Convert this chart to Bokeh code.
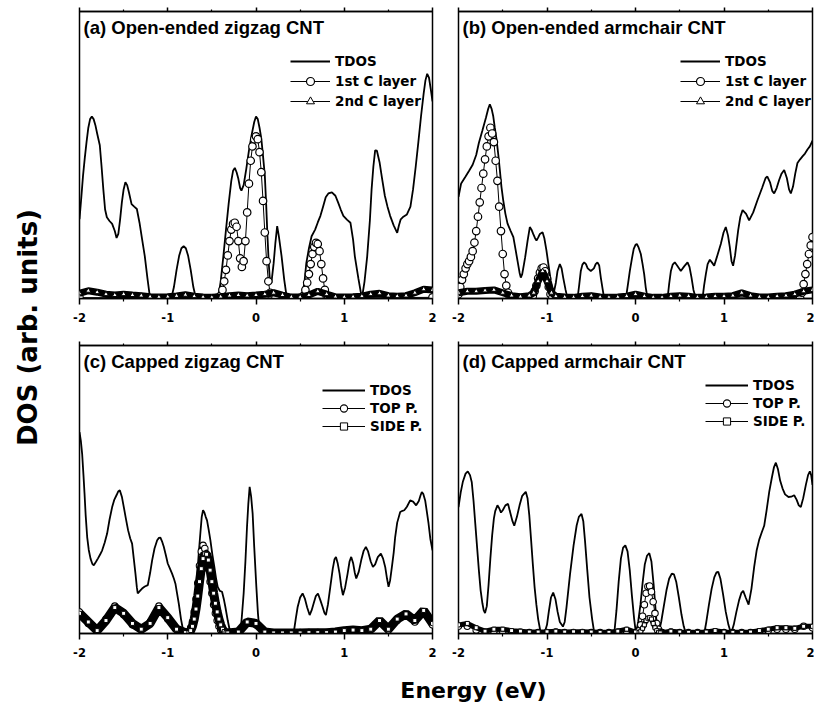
from bokeh.plotting import figure
from bokeh.models import Range1d, LinearAxis, FixedTicker, Label, Legend, LegendItem
from bokeh.layouts import row, column
from bokeh.embed import file_html
from bokeh.resources import INLINE

# ---------------- axis ticks ----------------
tick_vals = [-2, -1, 0, 1, 2]
tick_labels = ["-2", "-1", "0", "1", "2"]
minor_vals = [-1.5, -0.5, 0.5, 1.5]

titles = ["(a) Open-ended zigzag CNT", "(b) Open-ended armchair CNT",
          "(c) Capped zigzag CNT", "(d) Capped armchair CNT"]
legend_open = ["TDOS", "1st C layer", "2nd C layer"]
legend_cap = ["TDOS", "TOP P.", "SIDE P."]
x_title = "Energy (eV)"
y_title = "DOS (arb. units)"

# common coarse energy grid (eV)
e_step01 = [-2.0, -1.9, -1.8, -1.7, -1.6, -1.5, -1.4, -1.3, -1.2, -1.1, -1.0, -0.9, -0.8, -0.7, -0.6,
            -0.5, -0.4, -0.3, -0.2, -0.1, 0.0, 0.1, 0.2, 0.3, 0.4, 0.5, 0.6, 0.7, 0.8, 0.9, 1.0,
            1.1, 1.2, 1.3, 1.4, 1.5, 1.6, 1.7, 1.8, 1.9, 2.0]

# ---------------- panel (a) ----------------
a_tdos_E = [-2.00, -1.98, -1.96, -1.94, -1.92, -1.90, -1.88, -1.86, -1.84, -1.82, -1.80,
            -1.77, -1.75, -1.73, -1.71, -1.69, -1.66, -1.63, -1.60, -1.58, -1.56,
            -1.54, -1.52, -1.50, -1.48, -1.46, -1.44, -1.41, -1.38, -1.35, -1.32,
            -1.29, -1.26, -1.23, -1.20,
            -0.96, -0.93, -0.90, -0.87, -0.845, -0.82, -0.795, -0.77, -0.74, -0.71, -0.68,
            -0.43, -0.40, -0.37, -0.34, -0.31, -0.28, -0.26, -0.24, -0.22, -0.20,
            -0.18, -0.165, -0.14, -0.11, -0.08, -0.05, -0.02, 0.00, 0.02, 0.04,
            0.06, 0.08, 0.10, 0.115, 0.13, 0.145, 0.16, 0.175, 0.20, 0.22,
            0.24, 0.26, 0.29, 0.32, 0.35,
            0.52, 0.55, 0.57, 0.60, 0.63, 0.67, 0.70, 0.73, 0.76, 0.79,
            0.82, 0.86, 0.90, 0.93, 0.96, 0.99, 1.03, 1.07, 1.10, 1.12, 1.16, 1.20,
            1.23, 1.26, 1.29, 1.31, 1.33, 1.35, 1.37, 1.40, 1.43, 1.46,
            1.49, 1.52, 1.56, 1.60, 1.62, 1.64, 1.67, 1.71, 1.75, 1.78,
            1.81, 1.84, 1.87, 1.90, 1.92, 1.94, 1.96, 1.98, 2.00]
a_tdos_v = [27.6, 35.0, 42.8, 49.0, 54.6, 59.5, 62.5, 63.4, 62.5, 60.4, 57.5,
            53.4, 46.0, 38.0, 31.0, 28.3, 27.0, 26.0, 23.5, 21.1, 22.5,
            27.5, 33.5, 38.0, 40.5, 39.5, 37.0, 32.9, 32.0, 31.2, 26.4,
            20.5, 14.7, 7.0, 0.0,
            0.0, 4.0, 10.0, 15.0, 17.5, 18.2, 17.5, 15.0, 10.0, 4.0, 0.0,
            0.0, 6.0, 14.7, 24.0, 33.0, 41.0, 44.5, 45.5, 44.0, 41.7,
            38.5, 37.6, 39.5, 45.2, 51.5, 56.9, 61.5, 63.4, 62.5, 59.5,
            55.8, 49.5, 42.8, 33.0, 21.7, 12.0, 5.3, 5.5, 12.3, 19.5,
            25.2, 21.5, 14.7, 6.5, 0.0,
            0.0, 6.0, 12.3, 17.5, 21.7, 24.0, 26.5, 28.8, 32.0, 35.3,
            36.6, 37.0, 35.8, 33.5, 31.0, 28.8, 27.5, 26.4, 20.5, 14.7, 7.0, 0.0,
            6.0, 14.7, 27.0, 38.1, 46.0, 51.6, 51.5, 47.5, 41.5, 35.8,
            32.0, 28.8, 25.5, 22.9, 25.5, 27.6, 28.5, 29.3, 32.0, 38.1,
            46.0, 54.6, 63.5, 71.5, 76.0, 78.3, 77.0, 73.0, 68.7]
a_l1_E = [-2.00, -0.44,
          -0.42, -0.40, -0.38, -0.36, -0.34, -0.32, -0.30, -0.28, -0.26, -0.24,
          -0.22, -0.20, -0.18, -0.16, -0.14, -0.12, -0.10, -0.08, -0.06, -0.04,
          -0.02, 0.00, 0.02, 0.04, 0.06, 0.08, 0.10, 0.12, 0.14, 0.16,
          0.18, 0.20, 0.22,
          0.50, 0.52, 0.54, 0.56, 0.58, 0.60, 0.62, 0.64, 0.66, 0.68,
          0.70, 0.72, 0.74, 0.76, 0.78, 0.80, 0.82, 0.84,
          2.00]
a_l1_v = [0.3, 0.2,
          0.3, 1, 3, 6, 10, 15, 20, 24, 26, 26.4,
          25, 20, 14, 11, 13, 20, 30, 40, 48, 53,
          55.5, 56.5, 55.5, 51, 44, 34, 23, 13, 6, 2,
          0.5, 0.2, 0.2,
          0.2, 0.3, 1, 3, 5.5, 8.5, 12, 15.5, 18, 19.4,
          19, 16.5, 12, 7, 3, 1, 0.3, 0.2,
          0.4]
a_l2_E = e_step01
a_l2_v = [1.8, 2.7, 2.2, 1.5, 1.2, 1.5, 1.2, 1.0, 0.6, 0.5,
          0.6, 0.9, 1.3, 0.8, 0.5, 0.4, 0.6, 1.0, 1.2, 1.0,
          1.2, 1.5, 2.0, 1.2, 0.5, 0.5, 1.2, 2.5, 1.5, 0.6,
          0.5, 0.6, 0.8, 1.5, 1.8, 1.0, 0.8, 1.0, 2.0, 3.2, 3.0]

# ---------------- panel (b) ----------------
b_tdos_E = [-2.00, -1.97, -1.92, -1.88, -1.84, -1.80, -1.77, -1.73, -1.69, -1.665,
            -1.646, -1.625, -1.608, -1.59, -1.57, -1.55, -1.533, -1.515, -1.495, -1.47,
            -1.446, -1.41, -1.38, -1.355, -1.333, -1.31, -1.296, -1.28, -1.26, -1.247,
            -1.22, -1.194, -1.175, -1.156, -1.135, -1.119, -1.10, -1.08, -1.05, -1.03,
            -1.006, -0.98, -0.957, -0.935, -0.919, -0.90, -0.881, -0.855, -0.835, -0.817,
            -0.79, -0.768,
            -0.655, -0.635, -0.618, -0.60, -0.58, -0.56, -0.54, -0.505, -0.47, -0.45,
            -0.43, -0.41, -0.392, -0.37, -0.354,
            -0.109, -0.085, -0.064, -0.04, -0.02, 0.00, 0.015, 0.035, 0.06, 0.08,
            0.098, 0.115, 0.136,
            0.362, 0.38, 0.40, 0.42, 0.444, 0.47, 0.512, 0.55, 0.588, 0.61,
            0.633, 0.655, 0.682,
            0.757, 0.775, 0.795, 0.815, 0.84, 0.865, 0.889, 0.92, 0.964, 0.995,
            1.02, 1.045, 1.066, 1.085, 1.103, 1.125, 1.16, 1.185, 1.21, 1.25,
            1.284, 1.33, 1.379, 1.43, 1.47, 1.49, 1.52, 1.545, 1.567, 1.595,
            1.623, 1.65, 1.68, 1.71, 1.735, 1.755, 1.78, 1.805, 1.83, 1.86,
            1.887, 1.915, 1.943, 1.97, 2.00]
b_tdos_v = [35.4, 40.1, 42.5, 44.5, 46.6, 50.0, 54.2, 58.5, 63.0, 66.0,
            67.7, 66.0, 63.6, 59.5, 55.4, 50.0, 44.8, 39.0, 34.3, 29.5,
            26.1, 23.5, 21.4, 17.0, 13.1, 9.0, 7.3, 8.5, 12.0, 14.3,
            20.0, 24.9, 24.0, 22.5, 21.0, 20.2, 21.2, 22.5, 23.1, 21.0,
            16.7, 11.0, 6.1, 3.5, 2.6, 5.5, 9.6, 12.0, 10.5, 7.3,
            3.0, 0.0,
            0.0, 5.0, 9.6, 11.8, 12.6, 12.0, 10.5, 9.6, 10.5, 12.0,
            12.6, 11.5, 7.3, 3.0, 0.0,
            0.0, 5.0, 9.6, 14.0, 17.3, 18.7, 19.0, 17.8, 15.5, 12.0,
            8.5, 4.0, 0.0,
            0.0, 5.0, 9.6, 11.8, 12.6, 11.5, 9.6, 11.2, 12.6, 11.0,
            7.3, 3.0, 0.0,
            0.0, 4.5, 8.5, 12.0, 13.5, 12.5, 11.4, 14.5, 19.0, 23.0,
            24.9, 22.0, 17.8, 13.0, 11.4, 15.0, 23.7, 28.5, 30.8, 29.5,
            27.2, 30.0, 34.3, 38.5, 42.0, 42.5, 40.5, 37.5, 36.6, 38.5,
            41.3, 43.5, 44.8, 42.0, 38.0, 36.6, 39.0, 43.5, 47.2, 48.5,
            49.5, 50.5, 51.9, 53.0, 55.0]
b_l1_E = [-2.00, -1.98, -1.96, -1.94, -1.92, -1.90, -1.88, -1.86, -1.84, -1.82,
          -1.80, -1.78, -1.76, -1.74, -1.72, -1.70, -1.68, -1.66, -1.64, -1.62,
          -1.60, -1.58, -1.56, -1.54, -1.52, -1.50, -1.48, -1.46, -1.44, -1.42,
          -1.40,
          -1.18, -1.16, -1.14, -1.12, -1.10, -1.08, -1.06, -1.04, -1.02, -1.00,
          -0.98, -0.96, -0.94,
          1.86, 1.88, 1.90, 1.92, 1.94, 1.96, 1.98, 2.00]
b_l1_v = [1.5, 4, 6.5, 8.5, 10.5, 12, 13, 14.5, 16.5, 19.5,
          23.5, 28.5, 33.5, 38.5, 43.5, 48.5, 53, 56.5, 59.5, 57.5,
          54.5, 48, 41, 32, 23.5, 15.5, 8.5, 4.5, 2, 0.5,
          0.2,
          0.2, 1, 2.5, 4.5, 7, 9, 10.5, 10.8, 9.5, 7,
          4, 1.5, 0.2,
          0.2, 2, 5, 8.5, 12, 15.5, 18.5, 21.4]
b_l2_E = [-2.0, -1.9, -1.8, -1.7, -1.6, -1.5, -1.4, -1.3, -1.2,
          -1.15, -1.1, -1.05, -1.0, -0.95, -0.9,
          -0.8, -0.7, -0.6, -0.5, -0.4, -0.3, -0.2, -0.1, 0.0, 0.1,
          0.2, 0.3, 0.4, 0.5, 0.6, 0.7, 0.8, 0.9, 1.0, 1.1,
          1.2, 1.3, 1.4, 1.5, 1.6, 1.7, 1.8, 1.9, 2.0]
b_l2_v = [2.0, 2.5, 2.5, 2.8, 3.0, 2.0, 1.0, 0.6, 1.0,
          2.0, 6.0, 9.5, 6.0, 2.0, 0.8,
          0.5, 0.4, 0.8, 1.0, 0.5, 0.4, 0.5, 0.8, 1.5, 0.8,
          0.4, 0.4, 0.8, 1.0, 0.8, 0.4, 0.5, 0.8, 0.8, 1.0,
          2.0, 1.0, 0.5, 0.5, 0.8, 1.0, 1.5, 2.5, 3.0]

# ---------------- panel (c) ----------------
c_tdos_E = [-2.00, -1.985, -1.97, -1.955, -1.943, -1.93, -1.913, -1.895, -1.875, -1.855,
            -1.838, -1.815, -1.792, -1.765, -1.743, -1.715, -1.687, -1.66, -1.63, -1.605,
            -1.581, -1.562, -1.543, -1.52, -1.498, -1.475, -1.449, -1.425, -1.404, -1.385,
            -1.366, -1.35, -1.34, -1.315, -1.291, -1.26, -1.226, -1.20, -1.177, -1.15,
            -1.12, -1.10, -1.083, -1.065, -1.045, -1.02, -1.00, -0.975, -0.951, -0.93,
            -0.913, -0.895, -0.875, -0.85, -0.819,
            -0.725, -0.705, -0.687, -0.668, -0.649, -0.63, -0.615, -0.60, -0.585, -0.57,
            -0.555, -0.535, -0.517, -0.495, -0.472, -0.452, -0.434, -0.41, -0.385, -0.365,
            -0.347, -0.32, -0.29,
            -0.177, -0.16, -0.14, -0.12, -0.102, -0.087, -0.072, -0.055, -0.038, -0.02,
            0.004, 0.022, 0.042,
            0.426, 0.45, 0.472, 0.50, 0.528, 0.555, 0.58, 0.608, 0.63, 0.653,
            0.678, 0.702, 0.73, 0.755, 0.775, 0.792, 0.815, 0.842, 0.87, 0.89,
            0.906, 0.925, 0.947, 0.965, 0.985, 1.01, 1.038, 1.06, 1.079, 1.10,
            1.12, 1.136, 1.165, 1.192, 1.22, 1.245, 1.27, 1.30, 1.325, 1.35,
            1.38, 1.415, 1.44, 1.464, 1.485, 1.502, 1.52, 1.54, 1.56, 1.577,
            1.60, 1.634, 1.66, 1.68, 1.71, 1.747, 1.78, 1.815, 1.845, 1.865,
            1.879, 1.895, 1.917, 1.935, 1.955, 1.975, 2.00]
c_tdos_v = [69.9, 67.0, 62.4, 55.0, 48.6, 41.0, 33.5, 29.0, 26.0, 24.2,
            23.7, 24.8, 26.0, 27.5, 28.9, 31.5, 34.7, 39.5, 43.9, 46.5,
            48.0, 49.3, 49.7, 47.5, 43.9, 40.0, 35.8, 33.0, 31.2, 26.0,
            20.8, 16.0, 13.9, 14.8, 15.6, 16.3, 16.8, 21.0, 25.4, 29.5,
            32.4, 33.2, 33.3, 32.0, 30.1, 27.0, 24.3, 22.5, 20.8, 19.0,
            17.3, 14.0, 10.4, 5.0, 0.0,
            0.0, 5.0, 11.6, 19.5, 27.7, 35.0, 40.5, 42.8, 42.0, 40.5,
            39.3, 35.8, 32.4, 27.5, 23.1, 19.0, 16.2, 14.8, 14.5, 12.0,
            9.2, 4.5, 0.0,
            0.0, 6.0, 13.9, 25.0, 37.0, 45.0, 50.9, 47.5, 41.6, 30.0,
            16.2, 7.0, 0.0,
            0.0, 5.0, 9.2, 12.5, 13.9, 12.0, 9.0, 6.4, 8.0, 10.4,
            13.0, 13.9, 11.5, 9.2, 7.2, 6.4, 10.0, 16.2, 22.5, 25.8,
            26.6, 24.5, 20.8, 16.5, 13.3, 16.0, 20.8, 25.0, 26.6, 24.5,
            21.0, 19.1, 21.5, 25.4, 28.7, 30.1, 28.5, 25.0, 23.1, 24.0,
            26.5, 27.7, 26.0, 23.1, 19.0, 16.2, 18.5, 23.1, 28.0, 33.5,
            38.5, 42.2, 42.6, 42.8, 44.0, 46.2, 45.8, 44.5, 46.0, 48.0,
            49.1, 48.5, 46.2, 42.5, 38.2, 33.0, 28.9]
c_top_E = [-2.0, -1.9, -1.8, -1.7, -1.6, -1.5, -1.4, -1.3, -1.2, -1.1, -1.0, -0.9, -0.8,
           -0.78, -0.76, -0.74, -0.72, -0.70, -0.68, -0.66, -0.64, -0.62, -0.60,
           -0.58, -0.56, -0.54, -0.52, -0.50, -0.48, -0.46, -0.44, -0.42, -0.40,
           -0.38, -0.36,
           -0.3, -0.2, -0.1, 0.0, 0.1, 0.2, 0.3, 0.4, 0.5, 0.6, 0.7, 0.8, 0.9, 1.0,
           1.1, 1.2, 1.3, 1.4, 1.5, 1.6, 1.7, 1.8, 1.9, 2.0]
c_top_v = [7.5, 3.5, 0.8, 5.0, 9.5, 6.5, 3.0, 1.5, 4.0, 9.5, 5.0, 1.5, 0.2,
           0.3, 0.8, 2, 4, 7.5, 12, 17.5, 23.5, 28.5, 30.6,
           29.5, 26.5, 22.5, 18, 14, 10, 7, 4.5, 2.5, 1.2,
           0.5, 0.3,
           0.4, 0.8, 3.5, 3.0, 0.5, 0.2, 0.2, 0.2, 0.3, 0.3, 0.3, 0.3, 0.5, 0.8,
           1.0, 0.8, 1.5, 4.0, 1.2, 4.5, 6.3, 4.0, 7.5, 3.0]
c_side_E = [-2.0, -1.9, -1.8, -1.7, -1.6, -1.5, -1.4, -1.3, -1.2, -1.1, -1.0, -0.9, -0.8,
            -0.76, -0.74, -0.72, -0.70, -0.68, -0.66, -0.64, -0.62, -0.60, -0.58,
            -0.56, -0.54, -0.52, -0.50, -0.48, -0.46, -0.44, -0.42, -0.40, -0.38,
            -0.36, -0.34, -0.32,
            -0.2, -0.1, 0.0, 0.1, 0.2, 0.3, 0.4, 0.5, 0.6, 0.7, 0.8, 0.9, 1.0,
            1.1, 1.2, 1.3, 1.4, 1.5, 1.6, 1.7, 1.8, 1.9, 2.0]
c_side_v = [7.0, 4.0, 1.0, 4.5, 9.0, 7.0, 3.5, 1.5, 3.5, 9.0, 5.5, 1.5, 0.3,
            0.3, 1, 2.5, 5, 8.5, 13, 18, 22.5, 26, 27.7,
            27.5, 25.5, 22, 18, 14, 10.5, 7.5, 5, 3, 1.5,
            0.7, 0.3, 0.2,
            0.5, 4.0, 3.5, 0.5, 0.2, 0.2, 0.2, 0.2, 0.3, 0.3, 0.3, 0.5, 1.0,
            1.2, 1.0, 1.5, 4.5, 1.5, 5.0, 6.8, 4.5, 8.0, 3.5]

# ---------------- panel (d) ----------------
d_tdos_E = [-2.00, -1.975, -1.95, -1.92, -1.895, -1.87, -1.85, -1.83, -1.81, -1.79,
            -1.77, -1.75, -1.73, -1.715, -1.70, -1.68, -1.66, -1.64, -1.62, -1.60,
            -1.585, -1.56, -1.54, -1.52, -1.50, -1.47, -1.44, -1.42, -1.39, -1.37,
            -1.34, -1.31, -1.28, -1.24, -1.22, -1.20, -1.18, -1.16, -1.14, -1.12,
            -1.10, -1.07,
            -1.03, -1.00, -0.98, -0.955, -0.93, -0.905, -0.88, -0.855, -0.82, -0.80,
            -0.78, -0.74, -0.70, -0.665, -0.64, -0.61, -0.59, -0.57, -0.545, -0.52,
            -0.49, -0.465,
            -0.24, -0.215, -0.19, -0.165, -0.14, -0.115, -0.09, -0.065, -0.04, -0.015, 0.005,
            0.03, 0.056, 0.08, 0.105, 0.13, 0.156, 0.18, 0.205, 0.225, 0.24, 0.26,
            0.29, 0.32, 0.35, 0.38, 0.41, 0.435, 0.46, 0.49, 0.52, 0.545, 0.57,
            0.777, 0.80, 0.83, 0.86, 0.89, 0.915, 0.935, 0.96, 0.99, 1.02, 1.05, 1.08,
            1.11, 1.14, 1.17, 1.195, 1.217, 1.245, 1.278, 1.31, 1.341, 1.37,
            1.398, 1.425, 1.454, 1.48, 1.511, 1.54, 1.565, 1.586, 1.61, 1.635,
            1.661, 1.69, 1.729, 1.76, 1.793, 1.82, 1.845, 1.868, 1.895, 1.925,
            1.95, 1.97, 1.985, 2.00]
d_tdos_v = [43.9, 49.0, 52.8, 55.5, 56.3, 55.0, 52.5, 46.0, 38.0, 30.0,
            22.0, 15.0, 10.5, 8.0, 7.1, 9.5, 17.0, 26.0, 34.0, 40.0,
            42.5, 44.5, 43.5, 42.0, 42.8, 44.5, 45.0, 42.5, 39.0, 37.4,
            40.5, 44.5, 47.8, 49.2, 47.0, 41.0, 32.6, 24.0, 16.0, 10.0,
            5.0, 0.0,
            0.0, 3.0, 7.5, 12.5, 14.2, 12.0, 7.5, 4.0, 2.4, 4.0,
            9.0, 20.5, 30.5, 37.5, 40.5, 41.5, 39.0, 32.0, 22.0, 12.5,
            5.0, 0.0,
            0.0, 8.0, 18.0, 26.0, 29.8, 30.6, 28.5, 22.0, 13.0, 5.0, 0.0,
            4.0, 10.0, 17.5, 24.0, 27.0, 27.9, 25.0, 17.0, 9.0, 3.0, 0.0,
            4.0, 9.5, 15.0, 19.0, 20.8, 20.5, 18.0, 12.5, 6.5, 2.5, 0.0,
            0.0, 4.0, 10.0, 15.5, 19.5, 21.2, 21.4, 19.0, 13.5, 7.5, 3.0, 0.0,
            3.0, 7.5, 11.5, 14.0, 14.8, 12.5, 10.0, 15.5, 23.1, 29.0,
            32.6, 35.0, 37.4, 42.5, 49.2, 54.0, 57.8, 59.3, 57.0, 53.0,
            50.4, 48.3, 47.4, 47.5, 48.0, 46.5, 44.5, 43.9, 47.0, 51.6,
            55.0, 56.3, 55.0, 51.6]
d_top_E = [-2.0, -1.9, -1.8, -1.7, -1.6, -1.5, -1.4, -1.3, -1.2, -1.1, -1.0,
           -0.9, -0.8, -0.7, -0.6, -0.5, -0.4, -0.3, -0.2, -0.1, 0.0,
           0.02, 0.04, 0.06, 0.08, 0.10, 0.12, 0.14, 0.16, 0.18, 0.20,
           0.22, 0.24, 0.26, 0.28, 0.30,
           0.4, 0.5, 0.6, 0.7, 0.8, 0.9, 1.0, 1.1, 1.2, 1.3, 1.4, 1.5, 1.6, 1.7, 1.8, 1.9, 2.0]
d_top_v = [2.5, 2.5, 1.2, 0.4, 0.8, 0.8, 0.5, 0.4, 0.3, 0.3, 0.3,
           0.5, 0.3, 0.3, 0.3, 0.3, 0.3, 0.3, 0.5, 0.8, 0.3,
           0.3, 1, 3, 6, 10, 14, 16.3, 16.5, 14.5, 11,
           7, 3.5, 1.5, 0.5, 0.3,
           0.5, 0.3, 0.3, 0.3, 0.3, 0.5, 0.3, 0.3, 0.3, 0.3, 0.6, 1.0, 1.5, 1.5, 1.5, 2.5, 2.0]
d_side_E = [-2.0, -1.9, -1.8, -1.7, -1.6, -1.5, -1.4, -1.3, -1.2, -1.1, -1.0,
            -0.9, -0.8, -0.7, -0.6, -0.5, -0.4, -0.3, -0.2, -0.1, 0.0,
            0.04, 0.06, 0.08, 0.10, 0.12, 0.14, 0.16, 0.18, 0.20, 0.22,
            0.24, 0.26, 0.28,
            0.4, 0.5, 0.6, 0.7, 0.8, 0.9, 1.0, 1.1, 1.2, 1.3, 1.4, 1.5, 1.6, 1.7, 1.8, 1.9, 2.0]
d_side_v = [3.0, 3.5, 2.0, 0.8, 1.5, 1.5, 1.0, 0.8, 0.5, 0.5, 0.6,
            0.8, 0.5, 0.6, 0.6, 0.5, 0.4, 0.4, 0.8, 1.5, 0.5,
            0.3, 0.8, 1.8, 3, 4.5, 5.3, 5.5, 5, 3.5, 2,
            1, 0.4, 0.2,
            0.8, 0.5, 0.4, 0.4, 0.5, 1.0, 0.5, 0.4, 0.4, 0.5, 1.0, 1.5, 2.0, 2.0, 1.8, 2.5, 2.5]

# ---------------- styling helpers ----------------
TICK_FONT = "DejaVu Sans"
LEG_FONT = "DejaVu Sans"
TITLE_FONT = "Liberation Sans"


def make_axis(top):
    ticker = FixedTicker(ticks=tick_vals, minor_ticks=minor_vals)
    common = dict(ticker=ticker, axis_line_width=1.5, axis_line_color="black",
                  major_tick_line_width=1.5, minor_tick_line_width=1.2,
                  major_tick_in=0, minor_tick_in=0)
    if top:
        return LinearAxis(major_tick_out=4, minor_tick_out=2,
                          major_label_overrides={t: "" for t in tick_vals},
                          major_label_text_font_size="1px", major_label_standoff=0,
                          **common)
    return LinearAxis(major_tick_out=6, minor_tick_out=3,
                      major_label_overrides=dict(zip(tick_vals, tick_labels)),
                      major_label_text_font=TICK_FONT, major_label_text_font_style="bold",
                      major_label_text_font_size="11.5px", major_label_text_color="black",
                      major_label_standoff=8, **common)


def make_panel(width, height, bl, br, bt, bb):
    p = figure(width=width, height=height, x_range=Range1d(-2, 2), y_range=Range1d(0, 100),
               x_axis_location=None, y_axis_location=None, toolbar_location=None,
               output_backend="svg", min_border_left=bl, min_border_right=br,
               min_border_top=bt, min_border_bottom=bb)
    p.grid.visible = False
    p.outline_line_color = "black"
    p.outline_line_width = 1.5
    p.add_layout(make_axis(False), "below")
    p.add_layout(make_axis(True), "above")
    return p


def add_title(p, text, frame_h):
    p.add_layout(Label(x=4, y=frame_h - 16, x_units="screen", y_units="screen", text=text,
                       text_font=TITLE_FONT, text_font_style="bold", text_font_size="18.5px",
                       text_color="black", text_align="left", text_baseline="alphabetic"))


def add_legend(p, items, loc, glyph_w, row_h, standoff):
    leg = Legend(items=items, location=loc, glyph_width=glyph_w, glyph_height=row_h,
                 label_height=row_h, label_standoff=standoff, spacing=0, padding=0, margin=0,
                 label_text_font=LEG_FONT, label_text_font_style="bold",
                 label_text_font_size="13.5px", label_text_color="black",
                 border_line_color=None, background_fill_alpha=0)
    p.add_layout(leg)


def open_panel(p, tE, tv, l1E, l1v, l2E, l2v, title, frame_h, loc):
    for E, v in ((tE, tv), (l1E, l1v), (l2E, l2v)):
        assert len(E) == len(v)
    r_t = p.line(tE, tv, line_color="black", line_width=1.8)
    r1l = p.line(l1E, l1v, line_color="black", line_width=1.0)
    r1s = p.scatter(l1E, l1v, marker="circle", size=7.5, fill_color="white",
                    line_color="black", line_width=1.2)
    p.line(l2E, l2v, line_color="black", line_width=7)
    r2l = p.line(l2E, l2v, line_color="black", line_width=1.0)
    r2s = p.scatter(l2E, l2v, marker="triangle", size=5, fill_color="white",
                    line_color="black", line_width=1.0)
    add_title(p, title, frame_h)
    items = [LegendItem(label=legend_open[0], renderers=[r_t]),
             LegendItem(label=legend_open[1], renderers=[r1l, r1s]),
             LegendItem(label=legend_open[2], renderers=[r2l, r2s])]
    add_legend(p, items, loc, 40, 20, 5)


def capped_panel(p, tE, tv, topE, topv, sideE, sidev, title, frame_h, loc, band_w):
    for E, v in ((tE, tv), (topE, topv), (sideE, sidev)):
        assert len(E) == len(v)
    r_t = p.line(tE, tv, line_color="black", line_width=1.8)
    r1l = p.line(topE, topv, line_color="black", line_width=1.0)
    r1s = p.scatter(topE, topv, marker="circle", size=6.5, fill_color="white",
                    line_color="black", line_width=1.1)
    p.line(sideE, sidev, line_color="black", line_width=band_w)
    r2l = p.line(sideE, sidev, line_color="black", line_width=1.0)
    r2s = p.scatter(sideE, sidev, marker="square", size=4, fill_color="white",
                    line_color="black", line_width=1.0)
    add_title(p, title, frame_h)
    items = [LegendItem(label=legend_cap[0], renderers=[r_t]),
             LegendItem(label=legend_cap[1], renderers=[r1l, r1s]),
             LegendItem(label=legend_cap[2], renderers=[r2l, r2s])]
    add_legend(p, items, loc, 43, 18, 5)


# ---------------- layout (page has no body margin: positions are page pixels) ----------------
TOP_H, BOT_H = 328, 335
fa = make_panel(386, TOP_H, 21, 12, 11, 30)
fb = make_panel(370, TOP_H, 14, 2, 11, 30)
fc = make_panel(386, BOT_H, 21, 12, 17, 30)
fd = make_panel(370, BOT_H, 14, 2, 17, 30)

open_panel(fa, a_tdos_E, a_tdos_v, a_l1_E, a_l1_v, a_l2_E, a_l2_v, titles[0], 287, (211, 187))
open_panel(fb, b_tdos_E, b_tdos_v, b_l1_E, b_l1_v, b_l2_E, b_l2_v, titles[1], 287, (222, 187))
capped_panel(fc, c_tdos_E, c_tdos_v, c_top_E, c_top_v, c_side_E, c_side_v, titles[2], 288, (243, 198), 9)
capped_panel(fd, d_tdos_E, d_tdos_v, d_top_E, d_top_v, d_side_E, d_side_v, titles[3], 288, (247, 203), 5)


def text_fig(width, height):
    f = figure(width=width, height=height, x_range=Range1d(0, 1), y_range=Range1d(0, 1),
               x_axis_location=None, y_axis_location=None, toolbar_location=None,
               output_backend="svg", min_border=0)
    f.grid.visible = False
    f.outline_line_color = None
    return f


FX_H = 49
fy = text_fig(58, TOP_H + BOT_H + FX_H)
fy.add_layout(Label(x=27, y=TOP_H + BOT_H + FX_H - 327, x_units="screen", y_units="screen",
                    text=y_title, angle=90, angle_units="deg", text_align="center",
                    text_baseline="middle", text_font="DejaVu Sans", text_font_style="bold",
                    text_font_size="26px", text_color="black"))
fx = text_fig(756, FX_H)
fx.add_layout(Label(x=415, y=22, x_units="screen", y_units="screen", text=x_title,
                    text_align="center", text_baseline="alphabetic",
                    text_font="DejaVu Sans", text_font_style="bold", text_font_size="22px",
                    text_color="black"))

layout = row(fy, column(row(fa, fb), row(fc, fd), fx))

html = file_html(layout, INLINE, title="DOS of CNTs")
open("out.html", "w").write(html)
